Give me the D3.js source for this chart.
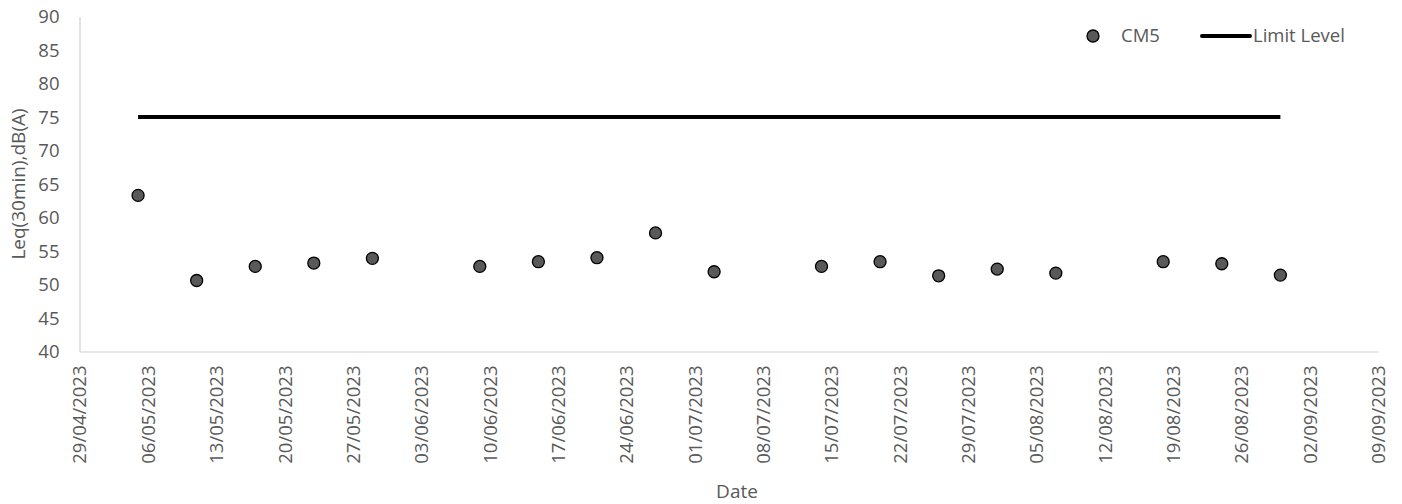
<!DOCTYPE html>
<html>
<head>
<meta charset="utf-8">
<script src="https://cdn.jsdelivr.net/npm/d3@7"></script>
<style>
  html, body { margin: 0; padding: 0; background: #fff; }
  svg { display: block; font-family: "Open Sans", sans-serif; }
</style>
</head>
<body>
<svg id="chart" width="1402" height="504"></svg>
<script>
// ---- data ----
const dates = ["05/05/2023","11/05/2023","17/05/2023","23/05/2023","29/05/2023","09/06/2023",
  "15/06/2023","21/06/2023","27/06/2023","03/07/2023","14/07/2023","20/07/2023","26/07/2023",
  "01/08/2023","07/08/2023","18/08/2023","24/08/2023","30/08/2023"];
const cm5 = [63.3, 50.6, 52.7, 53.2, 53.9, 52.7, 53.4, 54.0, 57.7, 51.9, 52.7, 53.4, 51.3,
  52.3, 51.7, 53.4, 53.1, 51.4];
const limitLevel = 75;
const xTickLabels = ["29/04/2023","06/05/2023","13/05/2023","20/05/2023","27/05/2023","03/06/2023",
  "10/06/2023","17/06/2023","24/06/2023","01/07/2023","08/07/2023","15/07/2023","22/07/2023",
  "29/07/2023","05/08/2023","12/08/2023","19/08/2023","26/08/2023","02/09/2023","09/09/2023"];
const yTicks = [40, 45, 50, 55, 60, 65, 70, 75, 80, 85, 90];
const seriesNames = ["CM5", "Limit Level"];

(function () {
// ---- layout ----
const parse = d3.timeParse("%d/%m/%Y");
const svg = d3.select("#chart");
const mLeft = 79.5, mRight = 1378, mTop = 16.5, mBottom = 351.5;
const textColor = "#595959";
const fs = 18.5;

const toUTC = s => { const d = parse(s); return Date.UTC(d.getFullYear(), d.getMonth(), d.getDate()); };
const x = d3.scaleUtc()
  .domain([toUTC(xTickLabels[0]), toUTC(xTickLabels[xTickLabels.length - 1])])
  .range([mLeft, mRight]);
const y = d3.scaleLinear().domain([40, 90]).range([mBottom, mTop]);

// axes
const yAxis = svg.append("g").attr("transform", `translate(${mLeft},0)`)
  .call(d3.axisLeft(y).tickValues(yTicks).tickSize(0).tickPadding(20));
yAxis.select(".domain").attr("stroke", "#d0d0d0").attr("stroke-width", 1.2);
yAxis.selectAll("text").attr("fill", textColor).attr("font-size", fs)
  .attr("font-family", "Open Sans").attr("dy", "0.35em");

const xTickDates = xTickLabels.map(toUTC);
const xAxis = svg.append("g").attr("transform", `translate(0,${mBottom})`)
  .call(d3.axisBottom(x).tickValues(xTickDates).tickSize(0)
    .tickFormat((d, i) => xTickLabels[i]));
xAxis.select(".domain").attr("stroke", "#d0d0d0").attr("stroke-width", 1.2);
xAxis.selectAll("text")
  .attr("fill", textColor).attr("font-size", fs).attr("font-family", "Open Sans")
  .attr("text-anchor", "end")
  .attr("transform", "rotate(-90)")
  .attr("x", -14).attr("y", 0).attr("dy", "0.35em");

// axis titles
svg.append("text")
  .attr("transform", `translate(18,${(mTop + mBottom) / 2}) rotate(-90)`)
  .attr("text-anchor", "middle").attr("dy", "0.35em")
  .attr("fill", textColor).attr("font-size", 19)
  .text("Leq(30min),dB(A)");
svg.append("text")
  .attr("x", 737).attr("y", 491).attr("dy", "0.35em")
  .attr("text-anchor", "middle")
  .attr("fill", textColor).attr("font-size", 19)
  .text("Date");

// limit line
const lineData = [dates[0], dates[dates.length - 1]].map(d => ({ t: toUTC(d), v: limitLevel }));
svg.append("path")
  .datum(lineData)
  .attr("d", d3.line().x(d => x(d.t)).y(d => y(d.v)))
  .attr("stroke", "#000").attr("stroke-width", 4).attr("fill", "none");

// points
svg.append("g").selectAll("circle")
  .data(dates.map((d, i) => ({ t: toUTC(d), v: cm5[i] })))
  .join("circle")
  .attr("cx", d => x(d.t)).attr("cy", d => y(d.v))
  .attr("r", 6)
  .attr("fill", "#595959").attr("stroke", "#000").attr("stroke-width", 1.3);

// legend
const lg = svg.append("g");
lg.append("circle").attr("cx", 1093).attr("cy", 36).attr("r", 6)
  .attr("fill", "#595959").attr("stroke", "#000").attr("stroke-width", 1.3);
lg.append("text").attr("x", 1121).attr("y", 36).attr("dy", "0.35em")
  .attr("fill", textColor).attr("font-size", fs).text(seriesNames[0]);
lg.append("line").attr("x1", 1202).attr("x2", 1250).attr("y1", 36).attr("y2", 36)
  .attr("stroke", "#000").attr("stroke-width", 4).attr("stroke-linecap", "round");
lg.append("text").attr("x", 1253).attr("y", 36).attr("dy", "0.35em")
  .attr("fill", textColor).attr("font-size", fs).text(seriesNames[1]);
})();
</script>
</body>
</html>
